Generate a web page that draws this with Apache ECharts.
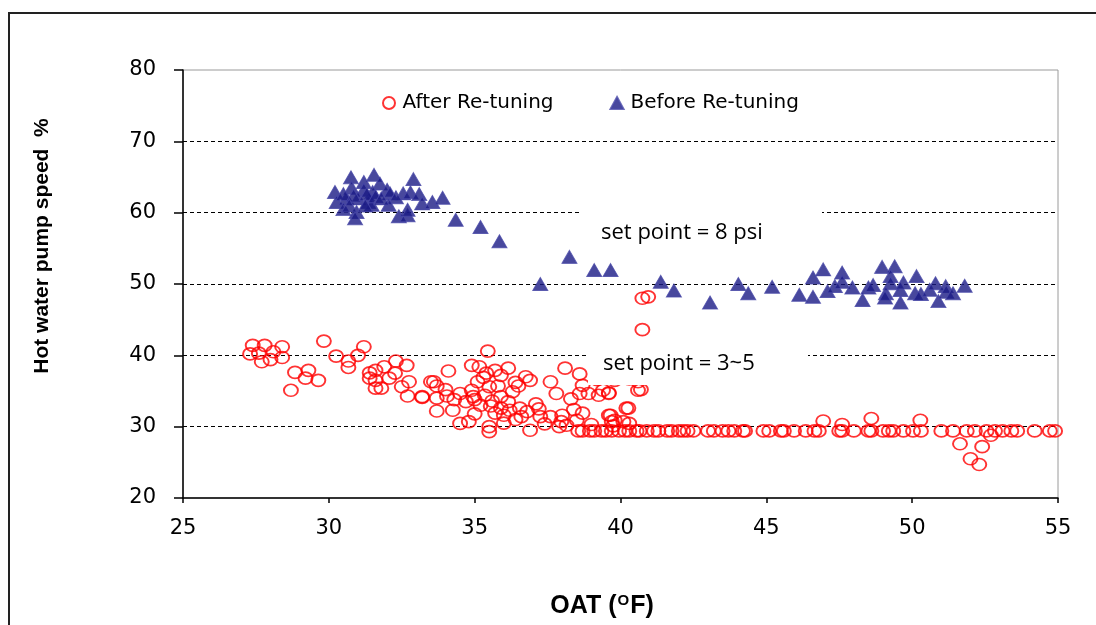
<!DOCTYPE html>
<html>
<head>
<meta charset="utf-8">
<script src="https://cdn.jsdelivr.net/npm/echarts@6/dist/echarts.min.js"></script>
<style>
html,body{margin:0;padding:0;background:#fff;}
#chart{width:1096px;height:625px;}
</style>
</head>
<body>
<div id="chart"></div>
<script>
// ---- data (OAT °F, pump speed %) ----
const seriesNames = ['After Re-tuning', 'Before Re-tuning'];

const beforePoints = [
  [30.21,62.9],[30.76,64.95],[31.55,65.3],[31.2,64.3],[31.75,64.1],[32.9,64.7],[30.78,63.5],[31.2,63.2],
  [31.5,62.9],[32.0,63.2],[32.1,62.7],[32.55,62.7],[32.8,62.85],[33.1,62.6],[32.3,62.15],[30.27,61.5],
  [30.6,62.0],[31.0,62.0],[31.35,61.5],[31.47,61.1],[30.5,60.5],[30.95,60.1],[30.9,59.2],[32.05,61.1],
  [32.4,59.5],[32.7,59.65],[32.7,60.4],[33.2,61.3],[33.55,61.5],[33.9,62.1],[30.5,62.6],[30.85,62.4],
  [31.3,62.6],[31.6,62.3],[31.8,62.0],[31.25,61.0],[30.7,61.0],
  [34.35,59.0],[35.2,58.0],[35.85,56.0],[37.25,50.0],[38.25,53.8],[39.1,51.95],[39.66,51.95],
  [41.38,50.3],[41.83,49.1],[43.07,47.4],[44.04,50.0],[44.38,48.7],[45.2,49.6],[46.13,48.5],[46.6,48.2],
  [46.6,50.9],[46.95,52.05],[47.1,49.0],[47.35,49.7],[47.6,51.6],[47.6,50.3],[47.95,49.5],[48.3,47.75],
  [48.5,49.5],[48.66,49.85],[48.97,52.4],[49.4,52.5],[49.26,51.1],[49.26,50.1],[49.1,48.7],[49.07,48.1],
  [49.6,49.15],[49.6,47.4],[49.7,50.2],[50.15,51.1],[50.1,48.7],[50.3,48.6],[50.6,49.2],[50.8,50.1],
  [50.9,47.6],[51.15,49.7],[51.17,48.9],[51.4,48.7],[51.8,49.75]
];

const afterPointsCold = [
  [27.39,41.4],[27.8,41.4],[28.4,41.2],[29.83,42.0],[31.2,41.2],[27.3,40.2],[27.6,40.3],[28.1,40.5],
  [28.4,39.7],[27.7,39.1],[28.0,39.4],[30.25,39.9],[30.67,39.2],[30.67,38.3],[31.0,40.0],[28.84,37.6],
  [29.3,37.9],[29.2,36.8],[29.64,36.5],[28.7,35.1],[31.4,37.55],[31.6,37.9],[31.9,38.4],[32.3,39.2],
  [32.67,38.6],[31.4,36.8],[31.6,36.5],[32.07,36.8],[32.27,37.5],[31.6,35.4],[31.8,35.4],[32.5,35.6],
  [32.75,36.3],[32.7,34.3],[33.2,34.1],[33.5,36.3]
];

const afterPointsMid = [
  [35.45,40.6],[34.1,37.8],[34.9,38.6],[35.16,38.4],[35.4,37.5],[35.7,37.9],[36.15,38.2],[35.9,37.2],
  [33.6,36.3],[33.7,35.7],[35.1,36.3],[35.5,35.6],[35.8,35.7],[36.5,35.7],[36.75,37.0],[36.9,36.5],
  [37.6,36.3],[38.1,38.2],[38.6,37.4],[33.2,34.2],[33.7,34.0],[34.05,34.3],[34.5,34.65],[34.9,35.1],
  [34.95,34.2],[35.35,34.4],[35.9,34.2],[36.15,33.5],[33.7,32.2],[34.25,32.3],[34.7,33.5],[35.2,33.0],
  [35.55,32.9],[35.9,32.6],[36.55,32.6],[36.8,32.1],[35.7,31.9],[36.0,31.6],[36.6,31.4],[34.5,30.45],
  [34.8,30.7],[35.5,30.0],[35.5,29.3],[36.9,29.5],[37.25,31.4],[37.6,31.4],[37.97,30.7],[38.0,31.6],
  [38.5,30.9],[38.7,31.9],[37.8,34.65],[38.3,33.9],[38.6,34.65],[38.9,34.65],[39.25,34.4],[39.6,34.65],
  [38.7,35.8],[39.66,31.6],[39.7,30.7],[40.2,32.6],[40.3,30.45],[37.9,30.0],[38.15,30.2],
  [34.3,33.8],[35.0,33.8],[35.3,36.9],[36.3,34.9],[36.4,36.2],[37.1,33.2],[36.0,30.5],[36.4,31.0],
  [37.2,32.5],[34.0,35.2],[35.6,33.6],[36.2,32.3],[35.0,31.8],[37.4,30.4],[38.4,32.4],[39.0,30.3],
  [40.75,48.0],[40.95,48.2],[40.75,43.6],[40.6,35.1],[39.4,35.1],[39.6,34.75],[40.7,35.2],[40.27,32.6],
  [39.6,31.6],[39.8,30.9],[40.1,30.7],[39.75,30.1],[39.2,36.6],[39.8,36.5],[40.3,36.7],[40.6,36.3]
];

// points sitting on the ~29.4 % floor
const afterFloorOAT = [
  38.55,38.7,38.95,39.1,39.35,39.5,39.7,39.95,40.15,40.3,40.55,40.65,40.9,41.15,41.3,41.6,41.75,42.0,
  42.15,42.3,42.5,43.0,43.2,43.5,43.7,43.9,44.2,44.27,44.9,45.1,45.5,45.6,45.95,46.35,46.65,46.8,47.5,
  47.6,48.0,48.5,48.6,49.0,49.2,49.35,49.7,50.03,50.3,51.0,51.4,51.87,52.15,52.55,52.84,53.1,53.4,53.6,
  54.2,54.72,54.9
];
const afterFloorSpeed = 29.4;

const afterPointsWarm = [
  [46.95,30.8],[47.6,30.3],[48.6,31.15],[50.28,30.9],[51.64,27.6],[52.4,27.2],[52.0,25.5],[52.3,24.7],[52.7,28.8]
];

const xRange = [25, 55, 5];
const yRange = [20, 80, 10];
const setPointLabels = ['set point = 8 psi', 'set point = 3~5'];

// ---- build ----
const afterPoints = afterPointsCold.concat(afterPointsMid,
  afterFloorOAT.map(x => [x, afterFloorSpeed]), afterPointsWarm);

const chart = echarts.init(document.getElementById('chart'), null, {renderer: 'canvas'});

const gridColors = [];
for (let v = yRange[0]; v <= yRange[1]; v += yRange[2]) {
  gridColors.push(v === yRange[0] || v === yRange[1] ? 'rgba(0,0,0,0)' : '#000');
}

const tickFont = {fontFamily: 'DejaVu Sans', fontSize: 21, color: '#000'};

chart.setOption({
  animation: false,
  backgroundColor: '#fff',
  grid: {left: 183, right: 38, top: 70, bottom: 127, show: true, borderColor: '#9a9a9a', borderWidth: 1},
  legend: {
    left: 382, top: 93, padding: 0, itemGap: 56, itemWidth: 13, itemHeight: 12,
    textStyle: {fontFamily: 'DejaVu Sans', fontSize: 20, color: '#000', padding: [0, 0, 0, 2]},
    data: [seriesNames[0], seriesNames[1]]
  },
  xAxis: {
    type: 'value', min: xRange[0], max: xRange[1], interval: xRange[2],
    axisLine: {lineStyle: {color: '#000', width: 1.5}},
    axisTick: {show: true, length: 5, lineStyle: {color: '#000', width: 1.5}},
    axisLabel: Object.assign({margin: 20}, tickFont),
    splitLine: {show: false}
  },
  yAxis: {
    type: 'value', min: yRange[0], max: yRange[1], interval: yRange[2],
    axisLine: {show: true, lineStyle: {color: '#000', width: 1.5}},
    axisTick: {show: true, length: 9, lineStyle: {color: '#000', width: 1.5}},
    axisLabel: Object.assign({margin: 27}, tickFont),
    splitLine: {show: true, lineStyle: {color: gridColors, type: [4, 3], width: 1.2}}
  },
  series: [
    {
      name: seriesNames[0], type: 'scatter', data: afterPoints,
      symbol: 'circle', symbolSize: [14, 12],
      itemStyle: {color: 'rgba(255,255,255,0)', borderColor: '#ff0000', borderWidth: 1.8},
      z: 3
    },
    {
      name: seriesNames[1], type: 'scatter', data: beforePoints,
      symbol: 'triangle', symbolSize: [15, 13],
      itemStyle: {color: '#1a1a85', borderColor: '#4848a8', borderWidth: 1},
      z: 4
    }
  ],
  graphic: [
    {type: 'rect', z: 100, shape: {x: 9, y: 13, width: 1200, height: 700},
     style: {fill: null, stroke: '#222', lineWidth: 2}, silent: true},
    {type: 'rect', z: 100, shape: {x: 580, y: 207, width: 242, height: 50},
     style: {fill: '#fff', stroke: null}},
    {type: 'text', z: 101, x: 601, y: 233,
     style: {text: setPointLabels[0], fontFamily: 'Open Sans', fontSize: 22, fill: '#000', verticalAlign: 'middle'}},
    {type: 'rect', z: 100, shape: {x: 588, y: 340, width: 220, height: 45},
     style: {fill: '#fff', stroke: null}},
    {type: 'text', z: 101, x: 603, y: 364,
     style: {text: setPointLabels[1], fontFamily: 'Open Sans', fontSize: 22, fill: '#000', verticalAlign: 'middle'}},
    {type: 'text', z: 101, x: 42, y: 246, rotation: Math.PI / 2,
     style: {text: 'Hot water pump speed  %', fontFamily: 'Liberation Sans', fontWeight: 'bold', fontSize: 21,
             fill: '#000', align: 'center', verticalAlign: 'middle'}},
    {type: 'text', z: 101, x: 602, y: 606,
     style: {text: '{m|OAT (}{s|O}{m|F)}', align: 'center', verticalAlign: 'middle',
             rich: {m: {fontFamily: 'Liberation Sans', fontWeight: 'bold', fontSize: 25, fill: '#000'},
                    s: {fontFamily: 'Liberation Sans', fontWeight: 'bold', fontSize: 15, fill: '#000', verticalAlign: 'top', padding: [0, 1, 10, 1]}}}}
  ]
});
</script>
</body>
</html>
